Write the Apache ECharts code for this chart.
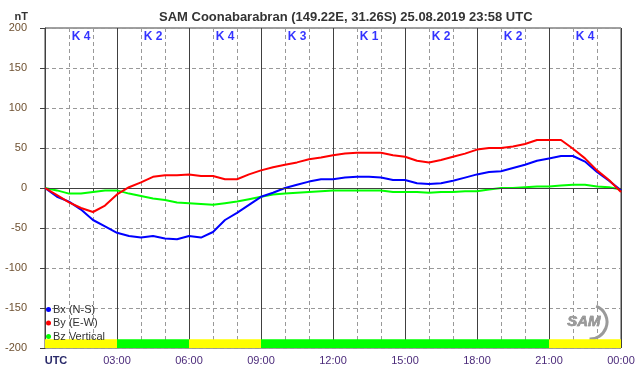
<!DOCTYPE html>
<html>
<head>
<meta charset="utf-8">
<script src="https://cdn.jsdelivr.net/npm/echarts@6/dist/echarts.min.js"></script>
<style>
  html, body { margin: 0; padding: 0; background: #fff; }
  #chart { width: 642px; height: 376px; }
</style>
</head>
<body>
<div id="chart"></div>
<script>
// UTC hours, one reading every 30 minutes
const hours = [0, 0.5, 1, 1.5, 2, 2.5, 3, 3.5, 4, 4.5, 5, 5.5, 6, 6.5, 7, 7.5, 8, 8.5, 9, 9.5,
  10, 10.5, 11, 11.5, 12, 12.5, 13, 13.5, 14, 14.5, 15, 15.5, 16, 16.5, 17, 17.5, 18, 18.5, 19, 19.5,
  20, 20.5, 21, 21.5, 22, 22.5, 23, 23.5, 24]
const bx = [0, -11, -17, -27, -40, -48, -56, -60, -62, -60, -63, -64, -60, -62, -55, -40, -31, -21, -11, -6,
  0, 4, 8, 11, 11, 13, 14, 14, 13, 10, 10, 6, 5, 6, 9, 13, 17, 20, 21, 25,
  29, 34, 37, 40, 40, 33, 20, 9, -3]
const by = [0, -9, -18, -25, -30, -22, -8, 1, 7, 14, 16, 16, 17, 15, 15, 11, 11, 17, 22, 26,
  29, 32, 36, 38, 41, 43, 44, 44, 44, 41, 39, 34, 32, 35, 39, 43, 48, 50, 50, 52,
  55, 60, 60, 60, 49, 37, 22, 10, -5]
const bz = [0, -3, -7, -7, -5, -3, -3, -7, -10, -13, -15, -18, -19, -20, -21, -19, -17, -14, -11, -8,
  -7, -6, -5, -4, -3, -3, -3, -3, -3, -5, -5, -5, -6, -5, -5, -4, -4, -2, 0, 0,
  1, 2, 2, 3, 4, 4, 2, 1, -2]
// K index per 3-hour block
const kStart = [0, 3, 6, 9, 12, 15, 18, 21]
const kIndex = [4, 2, 4, 3, 1, 2, 2, 4]
const xTickLabels = ['UTC', '03:00', '06:00', '09:00', '12:00', '15:00', '18:00', '21:00', '00:00']

const chart = echarts.init(document.getElementById('chart'))

const pair = (arr) => hours.map((h, i) => [h, arr[i]])

const kBars = kStart.map((s, i) => [
  { xAxis: s, yAxis: -189, itemStyle: { color: kIndex[i] >= 4 ? '#ffff00' : '#00ff00', opacity: 1 } },
  { xAxis: s + 3, yAxis: -200 },
])
const kLabels = kStart.map((s, i) => ({ value: [s + 1.5, 189], name: 'K ' + kIndex[i] }))

const lineSeries = (name, color, data, z) => ({
  name: name,
  type: 'line',
  data: pair(data),
  showSymbol: false,
  symbol: 'circle',
  lineStyle: { color: color, width: 2 },
  itemStyle: { color: color },
  z: z,
  animation: false,
})

const options = {
  animation: false,
  title: {
    text: 'SAM Coonabarabran (149.22E, 31.26S) 25.08.2019 23:58 UTC',
    left: 154,
    top: 6,
    textStyle: { fontFamily: 'Liberation Sans', fontSize: 13, fontWeight: 'bold', color: '#333' },
  },
  legend: {
    data: ['Bx (N-S)', 'By (E-W)', 'Bz Vertical'],
    orient: 'vertical',
    left: 46,
    top: 304,
    padding: 0,
    itemGap: 2.5,
    itemWidth: 5,
    itemHeight: 5,
    icon: 'circle',
    textStyle: { fontFamily: 'Liberation Sans', fontSize: 11, color: '#333', padding: [0, 0, 0, -3] },
  },
  grid: {
    left: 45,
    right: 21,
    top: 28,
    bottom: 28,
    show: true,
    borderColor: '#404040',
    borderWidth: 1,
  },
  xAxis: {
    type: 'value',
    min: 0,
    max: 24,
    interval: 3,
    axisLine: { show: true, lineStyle: { color: '#404040' } },
    axisTick: { show: true, length: 5, lineStyle: { color: '#404040' } },
    minorTick: { show: true, splitNumber: 3, length: 5, lineStyle: { color: '#404040' } },
    splitLine: { show: true, lineStyle: { color: '#404040', width: 1 } },
    minorSplitLine: { show: true, lineStyle: { color: '#999', type: [4, 3] } },
    axisLabel: {
      margin: 7,
      fontFamily: 'Liberation Sans',
      fontSize: 11,
      color: '#4b2a7a',
      formatter: function (v) {
        const label = xTickLabels[Math.round(v / 3)]
        return v === 0 ? '{u|' + label + '}' : label
      },
      rich: {
        u: { fontFamily: 'Liberation Sans', fontSize: 11, fontWeight: 'bold', color: '#2a2a6a', padding: [0, 0, 0, 22] },
      },
    },
  },
  yAxis: {
    type: 'value',
    min: -200,
    max: 200,
    interval: 50,
    name: 'nT',
    nameLocation: 'end',
    nameGap: 6,
    nameTextStyle: { fontFamily: 'Liberation Sans', fontSize: 11, fontWeight: 'bold', color: '#333', align: 'right', padding: [0, 17, 0, 0] },
    axisLine: { show: true, lineStyle: { color: '#404040' } },
    axisTick: { show: true, length: 5, lineStyle: { color: '#404040' } },
    splitLine: { show: true, lineStyle: { color: '#999', type: [4, 3] } },
    axisLabel: { margin: 18, fontFamily: 'Liberation Sans', fontSize: 11, color: '#6e5030' },
  },
  graphic: [
    {
      type: 'text',
      left: 567,
      top: 314,
      style: { text: 'SAM', font: 'italic bold 15px Liberation Sans', fill: '#9a9a9a', stroke: '#666', lineWidth: 0.5 },
    },
    {
      type: 'arc',
      shape: { cx: 590, cy: 322, r: 17, startAngle: -1.2, endAngle: 1.6 },
      style: { stroke: '#9a9a9a', lineWidth: 3, fill: null },
    },
  ],
  series: [
    {
      name: 'base',
      type: 'line',
      data: [],
      z: 1,
      silent: true,
      markArea: { silent: true, data: kBars },
      markLine: {
        silent: true,
        symbol: 'none',
        label: { show: false },
        lineStyle: { color: '#404040', type: 'solid', width: 1 },
        data: [{ yAxis: 0 }],
      },
    },
    {
      name: 'K',
      type: 'scatter',
      data: kLabels,
      symbolSize: 0,
      silent: true,
      label: {
        show: true,
        formatter: (p) => p.name,
        position: 'inside',
        fontFamily: 'Liberation Sans',
        fontSize: 12,
        fontWeight: 'bold',
        color: '#0000ff',
      },
    },
    lineSeries('Bz Vertical', '#00ff00', bz, 3),
    lineSeries('Bx (N-S)', '#0000ff', bx, 4),
    lineSeries('By (E-W)', '#ff0000', by, 5),
  ],
}

chart.setOption(options, true)
</script>
</body>
</html>
